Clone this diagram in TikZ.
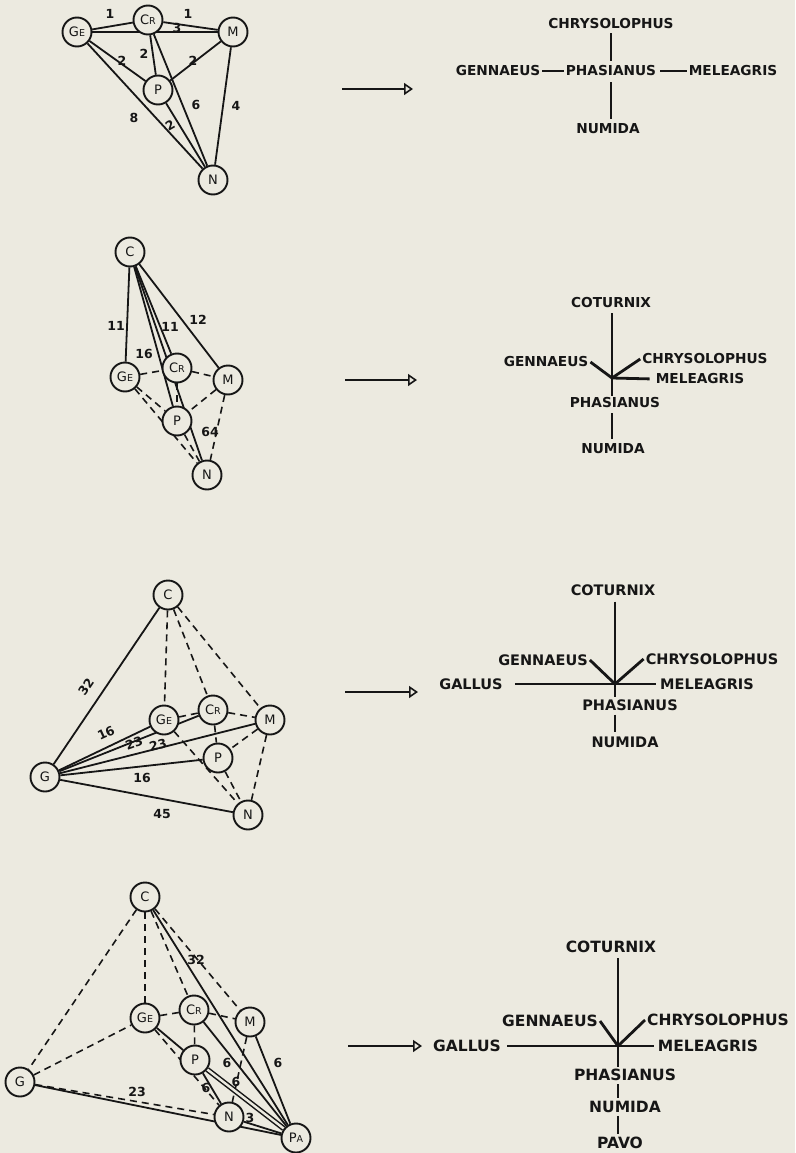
\documentclass[tikz,border=0pt]{standalone}
\usepackage{fontspec}
\newfontfamily\dejavu{DejaVu Sans}
\usetikzlibrary{arrows.meta}
\definecolor{paper}{RGB}{236,234,224}
\definecolor{ink}{RGB}{22,22,22}
\pgfdeclarelayer{paperlayer}
\pgfdeclarelayer{edges}
\pgfsetlayers{paperlayer,edges,main}
% small second letter inside the genus circles
\newcommand\lowlet[1]{{\fontsize{9.5}{10}\selectfont #1}}
\newcommand\treeA{\dejavu\bfseries\fontsize{13.7}{14}\selectfont}
\newcommand\treeB{\dejavu\bfseries\fontsize{14.5}{15}\selectfont}
\newcommand\treeC{\dejavu\bfseries\fontsize{15.5}{16}\selectfont}

\begin{document}
\begin{tikzpicture}[x=1pt, y=-1pt,
  sp/.style={circle, draw=ink, line width=1.9pt, fill=paper, minimum size=29pt,
    inner sep=0pt, text=ink, font=\dejavu\fontsize{13}{13}\selectfont},
  solidlink/.style={draw=ink, line width=1.8pt},
  dashlink/.style={draw=ink, line width=1.6pt, dash pattern=on 7pt off 5pt},
  num/.style={inner sep=0pt, text=ink, font=\dejavu\bfseries\fontsize{12.5}{12.5}\selectfont},
  taxonA/.style={inner sep=2pt, text=ink, font=\treeA},
  taxonB/.style={inner sep=2pt, text=ink, font=\treeB},
  taxonC/.style={inner sep=2pt, text=ink, font=\treeC},
  branch/.style={draw=ink, line width=2.8pt},
  pointer/.style={draw=ink, line width=1.6pt,
    -{Triangle[open, length=9pt, width=12pt, line width=1.6pt]}}
]
\begin{pgfonlayer}{paperlayer}
  \fill[paper] (0,0) rectangle (795,1153);
\end{pgfonlayer}
\useasboundingbox (0,0) rectangle (795,1153);

%% ---------- first stage: five genera ----------
\node[sp] (ge1) at (77,32)   {G\lowlet{E}};
\node[sp] (cr1) at (148,20)  {C\lowlet{R}};
\node[sp] (m1)  at (233,32)  {M};
\node[sp] (p1)  at (158,90)  {P};
\node[sp] (n1)  at (213,180) {N};
\begin{pgfonlayer}{edges}
  \draw[solidlink] (ge1) -- (cr1);
  \draw[solidlink] (cr1) -- (m1);
  \draw[solidlink] (ge1) -- (m1);
  \draw[solidlink] (ge1) -- (p1);
  \draw[solidlink] (cr1) -- (p1);
  \draw[solidlink] (m1) -- (p1);
  \draw[solidlink] (ge1) -- (n1);
  \draw[solidlink] (p1) -- (n1);
  \draw[solidlink] (cr1) -- (n1);
  \draw[solidlink] (m1) -- (n1);
\end{pgfonlayer}
\node[num] (l1a) at (110,14)  {1};
\node[num] (l1b) at (188,14)  {1};
\node[num] (l1c) at (177,28)  {3};
\node[num] (l1d) at (122,61)  {2};
\node[num] (l1e) at (144,54)  {2};
\node[num] (l1f) at (193,61)  {2};
\node[num] (l1g) at (134,118) {8};
\node[num, rotate=30] (l1h) at (170,125) {2};
\node[num] (l1i) at (196,105) {6};
\node[num] (l1j) at (236,106) {4};

\coordinate (a1s) at (342,89);
\coordinate (a1e) at (413,89);
\draw[pointer] (a1s) -- (a1e);

\node[taxonA] (chr1) at (611,24)  {CHRYSOLOPHUS};
\node[taxonA] (gen1) at (498,71)  {GENNAEUS};
\node[taxonA] (pha1) at (611,71)  {PHASIANUS};
\node[taxonA] (mel1) at (733,71)  {MELEAGRIS};
\node[taxonA] (num1) at (608,129) {NUMIDA};
\draw[branch, shorten <=2pt, shorten >=3pt] (chr1) -- (pha1);
\draw[branch, line width=2.4pt] (gen1) -- (pha1);
\draw[branch, line width=2.4pt, shorten <=2pt] (pha1) -- (mel1);
\draw[branch, shorten <=4pt, shorten >=3pt] (pha1.south) -- (pha1.south |- num1.north);

%% ---------- second stage: Coturnix added ----------
\node[sp] (c2)  at (130,252) {C};
\node[sp] (ge2) at (125,377) {G\lowlet{E}};
\node[sp] (cr2) at (177,368) {C\lowlet{R}};
\node[sp] (m2)  at (228,380) {M};
\node[sp] (p2)  at (177,421) {P};
\node[sp] (n2)  at (207,475) {N};
\begin{pgfonlayer}{edges}
  \draw[solidlink] (c2) -- (ge2);
  \draw[solidlink] (c2) -- (p2);
  \draw[solidlink] (c2) -- (cr2);
  \draw[solidlink] (c2) -- (n2);
  \draw[solidlink] (c2) -- (m2);
  \draw[dashlink] (ge2) -- (cr2);
  \draw[dashlink] (cr2) -- (m2);
  \draw[dashlink] (ge2) -- (p2);
  \draw[dashlink] (cr2) -- (p2);
  \draw[dashlink] (m2) -- (p2);
  \draw[dashlink] (ge2) -- (n2);
  \draw[dashlink] (p2) -- (n2);
  \draw[dashlink] (m2) -- (n2);
\end{pgfonlayer}
\node[num] (l2a) at (116,326) {11};
\node[num] (l2b) at (144,354) {16};
\node[num] (l2c) at (170,327) {11};
\node[num] (l2d) at (198,320) {12};
\node[num] (l2e) at (210,432) {64};

\coordinate (a2s) at (345,380);
\coordinate (a2e) at (417,380);
\draw[pointer] (a2s) -- (a2e);

\node[taxonA] (cot2) at (611,303) {COTURNIX};
\coordinate (j2) at (612,378);
\node[taxonA] (gen2) at (546,362) {GENNAEUS};
\node[taxonA] (chr2) at (705,359) {CHRYSOLOPHUS};
\node[taxonA] (mel2) at (700,379) {MELEAGRIS};
\node[taxonA] (pha2) at (615,403) {PHASIANUS};
\node[taxonA] (num2) at (613,449) {NUMIDA};
\draw[branch, shorten <=3pt] (cot2.south -| j2) -- (j2) -- (j2 |- pha2.north);
\draw[branch] (gen2.east) -- (j2);
\draw[branch] (chr2.west) -- (j2);
\draw[branch, shorten >=4pt] (j2) -- (mel2.west);
\draw[branch, shorten <=3pt, shorten >=3pt] (pha2.south -| j2) -- (j2 |- num2.north);

%% ---------- third stage: Gallus added ----------
\node[sp] (c3)  at (168,595) {C};
\node[sp] (ge3) at (164,720) {G\lowlet{E}};
\node[sp] (cr3) at (213,710) {C\lowlet{R}};
\node[sp] (m3)  at (270,720) {M};
\node[sp] (p3)  at (218,758) {P};
\node[sp] (g3)  at (45,777)  {G};
\node[sp] (n3)  at (248,815) {N};
\begin{pgfonlayer}{edges}
  \draw[solidlink] (c3) -- (g3);
  \draw[solidlink] (g3) -- (ge3);
  \draw[solidlink] (g3) -- (cr3);
  \draw[solidlink] (g3) -- (m3);
  \draw[solidlink] (g3) -- (p3);
  \draw[solidlink] (g3) -- (n3);
  \draw[dashlink] (c3) -- (ge3);
  \draw[dashlink] (c3) -- (cr3);
  \draw[dashlink] (c3) -- (m3);
  \draw[dashlink] (ge3) -- (cr3);
  \draw[dashlink] (cr3) -- (m3);
  \draw[dashlink] (cr3) -- (p3);
  \draw[dashlink] (m3) -- (p3);
  \draw[dashlink] (ge3) -- (n3);
  \draw[dashlink] (p3) -- (n3);
  \draw[dashlink] (m3) -- (n3);
\end{pgfonlayer}
\node[num, rotate=56] (l3a) at (86,687)  {32};
\node[num, rotate=25] (l3b) at (106,733) {16};
\node[num, rotate=20] (l3c) at (134,743) {23};
\node[num, rotate=14] (l3d) at (158,745) {23};
\node[num] (l3e) at (142,778) {16};
\node[num] (l3f) at (162,814) {45};

\coordinate (a3s) at (345,692);
\coordinate (a3e) at (418,692);
\draw[pointer] (a3s) -- (a3e);

\node[taxonB] (cot3) at (613,590) {COTURNIX};
\coordinate (j3) at (615,684);
\node[taxonB] (gen3) at (543,660) {GENNAEUS};
\node[taxonB] (chr3) at (712,659) {CHRYSOLOPHUS};
\node[taxonB] (gal3) at (471,684) {GALLUS};
\node[taxonB] (mel3) at (707,684) {MELEAGRIS};
\node[taxonB] (pha3) at (630,705) {PHASIANUS};
\node[taxonB] (num3) at (625,742) {NUMIDA};
\draw[branch, shorten <=4pt] (cot3.south -| j3) -- (j3) -- (j3 |- pha3.north);
\draw[branch] (gen3.east) -- (j3);
\draw[branch] (chr3.west) -- (j3);
\draw[branch, shorten <=10pt, shorten >=2pt] (gal3.east) -- (mel3.west);
\draw[branch, shorten <=2pt, shorten >=2pt] (pha3.south -| j3) -- (j3 |- num3.north);

%% ---------- fourth stage: Pavo added ----------
\node[sp] (c4)  at (145,897)  {C};
\node[sp] (ge4) at (145,1018) {G\lowlet{E}};
\node[sp] (cr4) at (194,1010) {C\lowlet{R}};
\node[sp] (m4)  at (250,1022) {M};
\node[sp] (p4)  at (195,1060) {P};
\node[sp] (g4)  at (20,1082)  {G};
\node[sp] (n4)  at (229,1117) {N};
\node[sp] (pa4) at (296,1138) {P\lowlet{A}};
\begin{pgfonlayer}{edges}
  \draw[dashlink] (c4) -- (g4);
  \draw[dashlink] (c4) -- (ge4);
  \draw[dashlink] (c4) -- (cr4);
  \draw[dashlink] (c4) -- (m4);
  \draw[dashlink] (ge4) -- (cr4);
  \draw[dashlink] (cr4) -- (m4);
  \draw[dashlink] (cr4) -- (p4);
  \draw[dashlink] (g4) -- (ge4);
  \draw[dashlink] (g4) -- (n4);
  \draw[dashlink] (ge4) -- (n4);
  \draw[dashlink] (m4) -- (n4);
  \draw[solidlink] (c4) -- (pa4);
  \draw[solidlink] (m4) -- (pa4);
  \draw[solidlink] (cr4) -- (pa4);
  \draw[solidlink] (ge4) -- (p4);
  \draw[solidlink, double=paper, double distance=2.4pt, line width=1.5pt] (p4) -- (pa4);
  \draw[solidlink] (p4) -- (n4);
  \draw[solidlink] (n4) -- (pa4);
  \draw[solidlink] (g4) -- (pa4);
\end{pgfonlayer}
\node[num] (l4a) at (196,960)  {32};
\node[num] (l4b) at (278,1063) {6};
\node[num] (l4c) at (227,1063) {6};
\node[num] (l4d) at (236,1082) {6};
\node[num] (l4e) at (206,1088) {6};
\node[num] (l4f) at (250,1118) {3};
\node[num] (l4g) at (137,1092) {23};

\coordinate (a4s) at (348,1046);
\coordinate (a4e) at (422,1046);
\draw[pointer] (a4s) -- (a4e);

\node[taxonC] (cot4) at (611,947)  {COTURNIX};
\coordinate (j4) at (618,1046);
\node[taxonC] (gen4) at (550,1021) {GENNAEUS};
\node[taxonC] (chr4) at (718,1020) {CHRYSOLOPHUS};
\node[taxonC] (gal4) at (467,1046) {GALLUS};
\node[taxonC] (mel4) at (708,1046) {MELEAGRIS};
\node[taxonC] (pha4) at (625,1075) {PHASIANUS};
\node[taxonC] (num4) at (625,1107) {NUMIDA};
\node[taxonC] (pav4) at (620,1143) {PAVO};
\draw[branch, shorten <=3pt] (cot4.south -| j4) -- (j4) -- (j4 |- pha4.north);
\draw[branch] (gen4.east) -- (j4);
\draw[branch] (chr4.west) -- (j4);
\draw[branch, shorten <=4pt, shorten >=2pt] (gal4.east) -- (mel4.west);
\draw[branch, shorten <=1pt, shorten >=1pt] (pha4.south -| j4) -- (j4 |- num4.north);
\draw[branch, shorten <=1pt, shorten >=1pt] (num4.south -| j4) -- (j4 |- pav4.north);
\end{tikzpicture}
\end{document}
